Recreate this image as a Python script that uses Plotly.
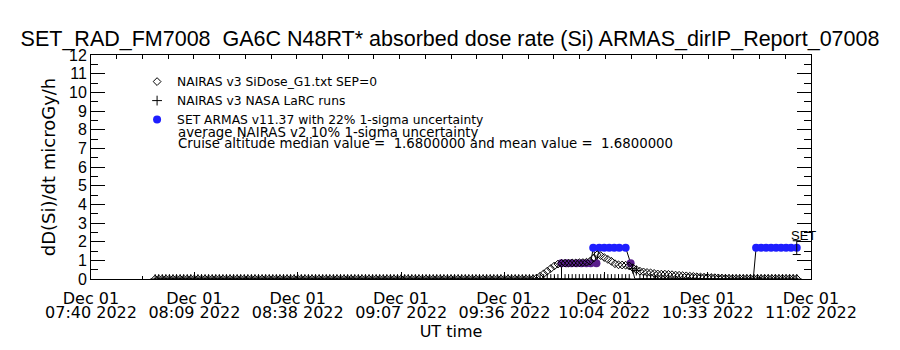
import pandas as pd
import plotly.graph_objects as go

DAY = "2022-12-01"
title_text = "SET_RAD_FM7008  GA6C N48RT* absorbed dose rate (Si) ARMAS_dirIP_Report_07008"

# axis extent and tick labels (UT)
x_start, x_end = "07:40", "11:02"
x_tick_times = ["07:40", "08:09", "08:38", "09:07", "09:36", "10:04", "10:33", "11:02"]
x_tick_dates = ["Dec 01"] * len(x_tick_times)
x_tick_years = [f"{t} 2022" for t in x_tick_times]
y_tick_values = list(range(13))

# NAIRAS v3 SiDose_G1.txt SEP=0 : one value per minute starting 07:58
nairas_start = "07:58"
nairas_values = [
    0, 0, 0, 0, 0, 0, 0, 0, 0, 0, 0, 0, 0, 0, 0, 0, 0, 0, 0, 0,
    0, 0, 0, 0, 0, 0, 0, 0, 0, 0, 0, 0, 0, 0, 0, 0, 0, 0, 0, 0,
    0, 0, 0, 0, 0, 0, 0, 0, 0, 0, 0, 0, 0, 0, 0, 0, 0, 0, 0, 0,
    0, 0, 0, 0, 0, 0, 0, 0, 0, 0, 0, 0, 0, 0, 0, 0, 0, 0, 0, 0,
    0, 0, 0, 0, 0, 0, 0, 0, 0, 0, 0, 0, 0, 0, 0, 0, 0, 0, 0, 0,
    0, 0, 0, 0, 0, 0, 0,
    0.05, 0.15, 0.28, 0.42, 0.56, 0.70, 0.80, 0.84, 0.85, 0.85,
    0.86, 0.86, 0.87, 0.88, 0.90, 0.95, 1.12, 1.30, 1.25, 1.15,
    1.05, 0.95, 0.82, 0.76, 0.75, 0.74, 0.70, 0.60, 0.50, 0.42,
    0.38, 0.35, 0.33, 0.30, 0.27, 0.26, 0.26, 0.25, 0.23, 0.21,
    0.20, 0.18, 0.17, 0.15, 0.14, 0.12, 0.11, 0.10, 0.09, 0.08,
    0.07, 0.06, 0.05, 0.04, 0.03, 0.02,
    0.02, 0.02, 0.02, 0.02, 0.02, 0.02, 0.02, 0.02, 0.02, 0.02,
    0.02, 0.02, 0.02, 0.02, 0.02, 0.02, 0.02, 0.02,
]

# NAIRAS v3 NASA LaRC runs : one value per minute starting 07:58
larc_values = [
    0, 0, 0, 0, 0, 0, 0, 0, 0, 0, 0, 0, 0, 0, 0, 0, 0, 0, 0, 0,
    0, 0, 0, 0, 0, 0, 0, 0, 0, 0, 0, 0, 0, 0, 0, 0, 0, 0, 0, 0,
    0, 0, 0, 0, 0, 0, 0, 0, 0, 0, 0, 0, 0, 0, 0, 0, 0, 0, 0, 0,
    0, 0, 0, 0, 0, 0, 0, 0, 0, 0, 0, 0, 0, 0, 0, 0, 0, 0, 0, 0,
    0, 0, 0, 0, 0, 0, 0, 0, 0, 0, 0, 0, 0, 0, 0, 0, 0, 0, 0, 0,
    0, 0, 0, 0, 0, 0, 0, 0, 0, 0, 0, 0, 0, 0, 0, 0, 0, 0, 0, 0,
    0, 0, 0, 0, 0, 0, 0, 0, 0, 0, 0, 0, 0, 0, 0.55, 0.45, 0, 0, 0, 0,
    0, 0, 0, 0, 0, 0, 0, 0, 0, 0, 0, 0, 0, 0, 0, 0, 0, 0, 0, 0,
    0, 0, 0, 0, 0, 0, 0, 0, 0, 0, 0, 0, 0, 0, 0, 0, 0, 0, 0, 0,
    0,
]

# SET ARMAS v11.37 measurements
armas_times = [
    "07:58:30", "09:52:00", "09:52:00", "09:53:24", "09:54:48", "09:56:12",
    "09:57:36", "09:59:00", "10:00:12", "10:00:54", "10:01:48", "10:02:36",
    "10:04:00", "10:05:24", "10:06:48", "10:08:12", "10:10:00", "10:11:24",
    "10:12:36", "10:45:48", "10:46:36", "10:48:00", "10:49:24", "10:50:48",
    "10:52:12", "10:53:36", "10:55:00", "10:56:24", "10:58:00",
]
armas_values = [
    0, 0, 0.84, 0.85, 0.84, 0.85,
    0.85, 0.84, 0.85, 1.68, 0.85, 1.68,
    1.68, 1.68, 1.68, 1.68, 1.68, 0.85,
    0, 0, 1.68, 1.68, 1.68, 1.68,
    1.68, 1.68, 1.68, 1.68, 1.68,
]
armas_sigma_pct = 22
nairas_sigma_pct = 10
cruise_median = 1.68
cruise_mean = 1.68

FONT = "Liberation Sans"
WIDE = "DejaVu Sans"
BLUE = "#1e1eff"
PURPLE = "#5a1e8c"


def ts(t):
    return pd.Timestamp(f"{DAY} {t}")


minute_grid = pd.date_range(ts(nairas_start), periods=len(nairas_values), freq="1min")
armas_x = [ts(t) for t in armas_times]
tick_x = [ts(t) for t in x_tick_times]
minor_x = [a + (b - a) / 2 for a, b in zip(tick_x[:-1], tick_x[1:])]
top_ticks = list(pd.date_range(ts(x_start), ts(x_end), periods=29))
x_range = [ts(x_start), ts(x_end)]

fig = go.Figure()

# ARMAS connecting line
fig.add_trace(go.Scatter(x=armas_x, y=armas_values, mode="lines",
                         line=dict(color="black", width=1),
                         showlegend=False, hoverinfo="skip"))
# ARMAS lower-level points (purple)
pur = [(x, v) for x, v in zip(armas_x, armas_values) if 0 < v < 1.5]
fig.add_trace(go.Scatter(x=[p[0] for p in pur], y=[p[1] for p in pur], mode="markers",
                         marker=dict(color=PURPLE, size=8, symbol="circle"),
                         showlegend=False, hoverinfo="skip"))
# ARMAS cruise points (blue)
blu = [(x, v) for x, v in zip(armas_x, armas_values) if v >= 1.5]
fig.add_trace(go.Scatter(x=[p[0] for p in blu], y=[p[1] for p in blu], mode="markers",
                         marker=dict(color=BLUE, size=8, symbol="circle"),
                         name=f"SET ARMAS v11.37 with {armas_sigma_pct}% 1-sigma uncertainty",
                         legendrank=3))
# NAIRAS diamonds
fig.add_trace(go.Scatter(x=minute_grid, y=nairas_values, mode="markers",
                         marker=dict(symbol="diamond-open", size=6, color="black",
                                     line=dict(width=1, color="black")),
                         name="NAIRAS v3 SiDose_G1.txt SEP=0", legendrank=1))
# NAIRAS LaRC crosses
fig.add_trace(go.Scatter(x=minute_grid, y=larc_values, mode="markers",
                         marker=dict(symbol="cross-thin-open", size=7, color="black",
                                     line=dict(width=1, color="black")),
                         name="NAIRAS v3 NASA LaRC runs", legendrank=2))
# error bar on the last ARMAS point
fig.add_trace(go.Scatter(x=[armas_x[-1]], y=[armas_values[-1]], mode="markers",
                         marker=dict(size=1, color="rgba(0,0,0,0)"),
                         error_y=dict(type="percent", value=armas_sigma_pct, color="black",
                                      thickness=1, width=4),
                         showlegend=False, hoverinfo="skip"))
# invisible traces to attach the extra axes
for ax in ("x2", "x3"):
    fig.add_trace(go.Scatter(x=x_range, y=[None, None], xaxis=ax,
                             mode="lines", showlegend=False, hoverinfo="skip"))

fig.add_annotation(x=armas_x[-1], y=armas_values[-1], text="SET", showarrow=False,
                   xshift=7, yshift=12, font=dict(family=FONT, size=13, color="black"))

fig.add_annotation(x=0.118, y=0.655, xref="paper", yref="paper", xanchor="left", yanchor="middle",
                   text=f"average NAIRAS v2 {nairas_sigma_pct}% 1-sigma uncertainty",
                   showarrow=False, font=dict(family=WIDE, size=13.3, color="black"))
fig.add_annotation(x=0.118, y=0.607, xref="paper", yref="paper", xanchor="left", yanchor="middle",
                   text=f"Cruise altitude median value =  {cruise_median:.7f} and mean value =  {cruise_mean:.7f}",
                   showarrow=False, font=dict(family=WIDE, size=13.3, color="black"))

fig.update_layout(
    width=900, height=350,
    margin=dict(l=91, r=89, t=55, b=71),
    paper_bgcolor="white", plot_bgcolor="white",
    font=dict(family=FONT, size=16, color="black"),
    title=dict(text=title_text, x=0.5, xanchor="center", y=1 - 38 / 350, yanchor="middle",
               font=dict(family=FONT, size=21.5, color="black")),
    showlegend=True,
    legend=dict(x=0.064, y=0.946, xanchor="left", yanchor="top", bgcolor="rgba(0,0,0,0)",
                font=dict(family=WIDE, size=12.3, color="black"), tracegroupgap=0),
    xaxis=dict(range=x_range, tickmode="array", tickvals=tick_x,
               ticktext=x_tick_dates, ticks="inside", ticklen=7, tickcolor="black",
               showline=True, linecolor="black", linewidth=1, mirror=True,
               showgrid=False, zeroline=False, ticklabelstandoff=5,
               minor=dict(tickmode="array", tickvals=minor_x, ticks="inside", ticklen=3,
                          tickcolor="black", showgrid=False),
               tickfont=dict(family=WIDE, size=16, color="black")),
    xaxis3=dict(range=x_range, overlaying="x", side="bottom", anchor="y", tickmode="array",
                tickvals=tick_x, ticktext=x_tick_years, ticks="", showline=False,
                showgrid=False, zeroline=False, ticklabelstandoff=22,
                tickfont=dict(family=WIDE, size=16, color="black"),
                title=dict(text="UT time", font=dict(family=WIDE, size=16, color="black"),
                           standoff=3)),
    xaxis2=dict(range=x_range, overlaying="x", side="top", tickmode="array",
                tickvals=top_ticks, ticks="inside", ticklen=4, tickcolor="black",
                showticklabels=False, showgrid=False, zeroline=False, showline=False),
    yaxis=dict(range=[0, 12], tickmode="array", tickvals=y_tick_values, ticks="inside",
               ticklen=14, tickcolor="black", showline=True, linecolor="black", linewidth=1,
               mirror="ticks", showgrid=False, zeroline=False,
               minor=dict(dtick=0.5, ticks="inside", ticklen=7, tickcolor="black", showgrid=False),
               tickfont=dict(family=FONT, size=16, color="black"),
               title=dict(text="dD(Si)/dt microGy/h", font=dict(family=WIDE, size=18, color="black"),
                          standoff=8)),
)

fig.write_html("out.html")
